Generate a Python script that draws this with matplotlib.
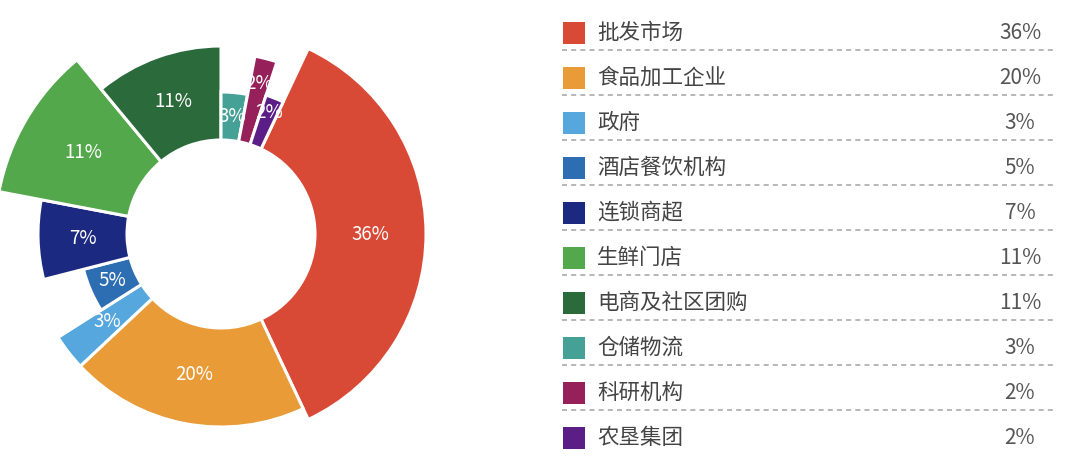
import numpy as np
import matplotlib.pyplot as plt
from matplotlib.patches import Rectangle

plt.rcParams['font.family'] = ['Noto Sans CJK SC', 'DejaVu Sans']

# 数据（顺时针，从 批发市场 开始画）
labels = ['批发市场', '食品加工企业', '政府', '酒店餐饮机构', '连锁商超',
          '生鲜门店', '电商及社区团购', '仓储物流', '科研机构', '农垦集团']
shares = [36, 20, 3, 5, 7, 11, 11, 3, 2, 2]
outer_r = [205, 193, 193, 142, 183, 226, 188, 142, 181, 146]
colors = ['#D84A36', '#E89B37', '#55A7DD', '#2D6DB1', '#1B2A80',
          '#52A84B', '#2B6A3A', '#45A096', '#96215A', '#5A1E86']

inner_r = 94
start_deg = 25.2  # 批发市场 的起始角度（从正上方顺时针）

fig = plt.figure(figsize=(10.8, 4.7), dpi=100)

# 玫瑰环形图
R = 230
cx, cy = 221, 470 - 234
ax = fig.add_axes([(cx - R) / 1080, (cy - R) / 470, 2 * R / 1080, 2 * R / 470],
                  projection='polar')
ax.set_theta_zero_location('N')
ax.set_theta_direction(-1)

shares_a = np.array(shares, dtype=float)
widths = shares_a / shares_a.sum() * 2 * np.pi
starts = np.deg2rad(start_deg) + np.concatenate([[0], np.cumsum(widths)[:-1]])
centers = starts + widths / 2
heights = np.array(outer_r) - inner_r

ax.bar(centers, heights, width=widths, bottom=inner_r, color=colors,
       edgecolor='white', linewidth=2.2, align='center')

for th, r0, s in zip(centers, outer_r, shares):
    # 2% 的扇区标签放得更靠外一些
    rr = (inner_r + r0) / 2 if s > 2 else inner_r + 0.7 * (r0 - inner_r)
    ax.text(th, rr, f'{s}%', ha='center', va='center',
            color='white', fontsize=13.5)

ax.set_ylim(0, R)
ax.set_axis_off()

# 右侧图例
lg = fig.add_axes([0, 0, 1, 1])
lg.set_xlim(0, 1080)
lg.set_ylim(470, 0)
lg.set_axis_off()

row0, step = 33, 45
for i, (name, s, c) in enumerate(zip(labels, shares, colors)):
    y = row0 + i * step
    lg.add_patch(Rectangle((563, y - 11), 22, 22, facecolor=c, edgecolor='none'))
    lg.text(597, y, name, ha='left', va='center', fontsize=15.5, color='#444444')
    lg.text(1020, y, f'{s}%', ha='center', va='center', fontsize=15, color='#555555')
    if i < len(labels) - 1:
        lg.plot([562, 1055], [y + 17, y + 17], color='#aaaaaa', lw=1.2,
                ls=(0, (3, 2.5)))

fig.savefig('out.png', dpi=100)
